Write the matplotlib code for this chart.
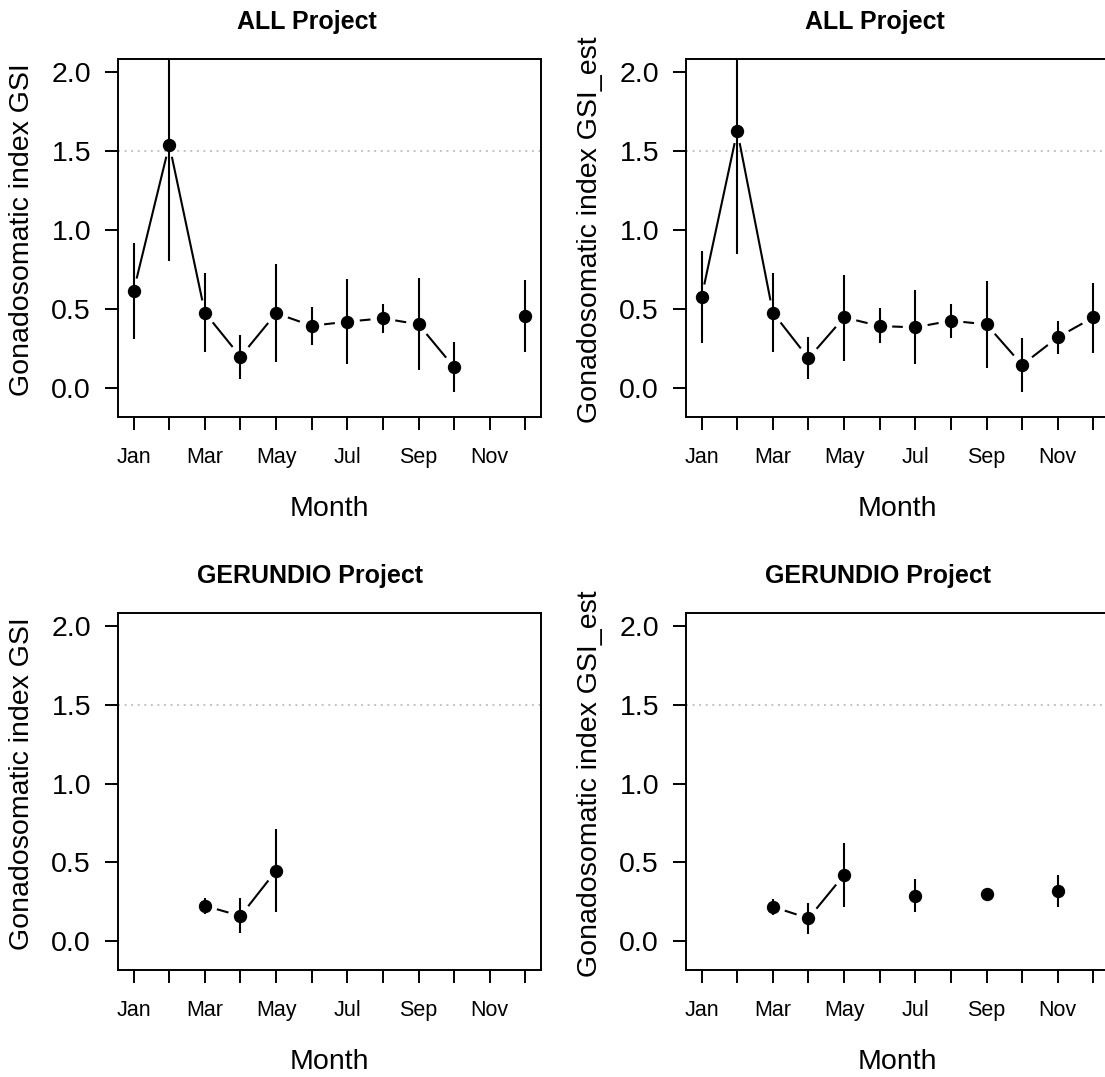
import numpy as np
import matplotlib
matplotlib.use('Agg')
import matplotlib.pyplot as plt

plt.rcParams['font.family'] = ['Liberation Sans', 'DejaVu Sans']

# Months on the x axis (1 = Jan ... 12 = Dec)
months = np.arange(1, 13)
month_labels = ['Jan', '', 'Mar', '', 'May', '', 'Jul', '', 'Sep', '', 'Nov', '']
nan = np.nan

# ALL project, GSI (mean and interval)
all_gsi = [0.616, 1.542, 0.477, 0.198, 0.473, 0.394, 0.420, 0.441, 0.403, 0.131, nan, 0.458]
all_gsi_lo = [0.310, 0.804, 0.230, 0.057, 0.165, 0.272, 0.152, 0.346, 0.114, -0.023, nan, 0.230]
all_gsi_hi = [0.916, 2.280, 0.726, 0.335, 0.783, 0.515, 0.690, 0.532, 0.694, 0.289, nan, 0.684]

# ALL project, GSI_est
all_est = [0.578, 1.629, 0.477, 0.188, 0.447, 0.392, 0.384, 0.426, 0.403, 0.146, 0.321, 0.447]
all_est_lo = [0.287, 0.846, 0.230, 0.055, 0.173, 0.283, 0.150, 0.319, 0.124, -0.023, 0.215, 0.219]
all_est_hi = [0.867, 2.410, 0.726, 0.325, 0.715, 0.504, 0.620, 0.532, 0.679, 0.319, 0.424, 0.666]

# GERUNDIO project, GSI
ger_gsi = [nan, nan, 0.224, 0.159, 0.447, nan, nan, nan, nan, nan, nan, nan]
ger_gsi_lo = [nan, nan, 0.172, 0.049, 0.186, nan, nan, nan, nan, nan, nan, nan]
ger_gsi_hi = [nan, nan, 0.275, 0.271, 0.710, nan, nan, nan, nan, nan, nan, nan]

# GERUNDIO project, GSI_est
ger_est = [nan, nan, 0.218, 0.144, 0.420, nan, 0.288, nan, 0.297, nan, 0.318, nan]
ger_est_lo = [nan, nan, 0.165, 0.042, 0.214, nan, 0.182, nan, 0.297, nan, 0.214, nan]
ger_est_hi = [nan, nan, 0.267, 0.243, 0.621, nan, 0.396, nan, 0.297, nan, 0.420, nan]

ref_level = 1.5

W, H = 1105, 1077
fig = plt.figure(figsize=(W / 100, H / 100), dpi=100)
fig.patch.set_facecolor('white')


def px_axes(left, top, right, bottom):
    return fig.add_axes([left / W, 1 - bottom / H, (right - left) / W, (bottom - top) / H])


def draw_type_b(ax, x, y, gap_px=12.5):
    # lines between consecutive points, leaving a gap around each point (R type="b")
    for i in range(len(x) - 1):
        if np.isnan(y[i]) or np.isnan(y[i + 1]):
            continue
        p0 = ax.transData.transform((x[i], y[i]))
        p1 = ax.transData.transform((x[i + 1], y[i + 1]))
        d = p1 - p0
        dist = np.hypot(d[0], d[1])
        if dist <= 2 * gap_px:
            continue
        u = d / dist
        inv = ax.transData.inverted()
        q0 = inv.transform(p0 + u * gap_px)
        q1 = inv.transform(p1 - u * gap_px)
        ax.plot([q0[0], q1[0]], [q0[1], q1[1]], color='black', lw=1.5, solid_capstyle='butt')


panels = [
    # (box left, top, right, bottom), title x, title, ylabel, data
    ((118, 59, 541, 417), 307, 'ALL Project', 'Gonadosomatic index GSI',
     all_gsi, all_gsi_lo, all_gsi_hi),
    ((686, 59, 1109, 417), 875, 'ALL Project', 'Gonadosomatic index GSI_est',
     all_est, all_est_lo, all_est_hi),
    ((118, 613, 541, 970), 310, 'GERUNDIO Project', 'Gonadosomatic index GSI',
     ger_gsi, ger_gsi_lo, ger_gsi_hi),
    ((686, 613, 1109, 970), 878, 'GERUNDIO Project', 'Gonadosomatic index GSI_est',
     ger_est, ger_est_lo, ger_est_hi),
]

for box, title_x, title, ylab, y, lo, hi in panels:
    left, top, right, bottom = box
    ax = px_axes(left, top, right, bottom)
    y = np.array(y, dtype=float)
    lo = np.array(lo, dtype=float)
    hi = np.array(hi, dtype=float)

    ax.set_xlim(0.56, 12.44)
    ax.set_ylim(-0.184, 2.084)

    ax.axhline(ref_level, color='#b3b3b3', lw=1.1, linestyle=(0, (1.3, 3.0)))
    ax.vlines(months, lo, hi, color='black', lw=1.5)
    draw_type_b(ax, months, y)
    ax.plot(months, y, 'o', color='black', markersize=8.6, linestyle='none')

    ax.set_xticks(months)
    ax.set_xticklabels(month_labels, fontsize=15.5)
    ax.set_yticks([0.0, 0.5, 1.0, 1.5, 2.0])
    ax.set_yticklabels(['0.0', '0.5', '1.0', '1.5', '2.0'], fontsize=20.5)
    ax.tick_params(axis='both', direction='out', length=9.4, width=1.4, color='black')
    ax.tick_params(axis='x', pad=12)
    ax.tick_params(axis='y', pad=10)
    for sp in ax.spines.values():
        sp.set_linewidth(1.4)

    fig.text(title_x / W, 1 - (top - 37) / H, title, ha='center', va='center',
             fontsize=18, fontweight='bold')
    fig.text((left - 96) / W, 1 - ((top + bottom) / 2 - 8) / H, ylab, ha='center',
             va='center', rotation=90, fontsize=20.5)
    fig.text(((left + right) / 2 if right < W else (left + 423 / 2)) / W,
             1 - (bottom + 92) / H, 'Month', ha='center', va='center', fontsize=20.5)

fig.savefig('out.png', dpi=100, facecolor='white')
